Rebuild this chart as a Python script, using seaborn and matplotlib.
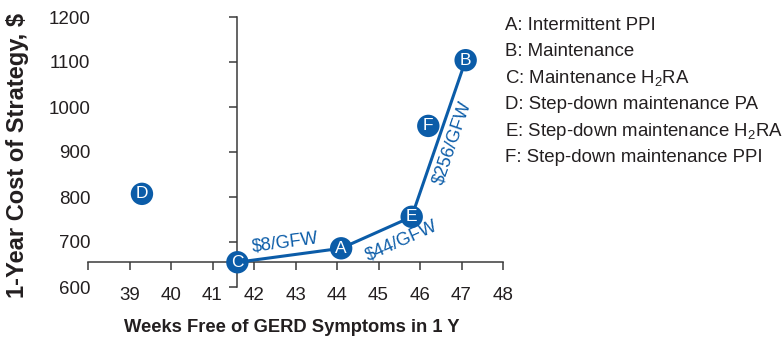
import numpy as np
import pandas as pd
import seaborn as sns
import matplotlib.pyplot as plt

# Strategy data: weeks free of symptoms vs. 1-year cost
letters = ["A", "B", "C", "D", "E", "F"]
strategies = [
    "Intermittent PPI",
    "Maintenance",
    "Maintenance H$_\\mathregular{2}$RA",
    "Step-down maintenance PA",
    "Step-down maintenance H$_\\mathregular{2}$RA",
    "Step-down maintenance PPI",
]
weeks = [44.1, 47.1, 41.6, 39.3, 45.8, 46.2]
cost = [686, 1104, 655, 807, 756, 958]

# Efficiency frontier order and incremental cost labels
frontier = ["C", "A", "E", "B"]
icer_labels = ["$8/GFW", "$44/GFW", "$256/GFW"]
icer_offsets = [(-3, 9), (18, -6), (10, -3)]  # text offsets in points

x_ticks = [38, 39, 40, 41, 42, 43, 44, 45, 46, 47, 48]
x_ticklabels = ["", "39", "40", "41", "42", "43", "44", "45", "46", "47", "48"]
y_ticks = [600, 700, 800, 900, 1000, 1100, 1200]

BLUE = "#0B5CA8"
INK = "#231F20"

sns.set_theme(style="white")
plt.rcParams["font.family"] = ["Liberation Sans", "DejaVu Sans"]
plt.rcParams["mathtext.fontset"] = "custom"
plt.rcParams["mathtext.rm"] = "Liberation Sans"
plt.rcParams["mathtext.it"] = "Liberation Sans:italic"
plt.rcParams["mathtext.bf"] = "Liberation Sans:bold"

df = pd.DataFrame({"letter": letters, "weeks": weeks, "cost": cost})
front = df.set_index("letter").loc[frontier].reset_index()

fig = plt.figure(figsize=(7.84, 3.40), dpi=100)
ax = fig.add_axes([88 / 784, 53 / 340, 415 / 784, 270 / 340])
ax.set_xlim(38, 48)
ax.set_ylim(600, 1200)

sns.lineplot(data=front, x="weeks", y="cost", sort=False, color=BLUE,
             linewidth=2.2, ax=ax, zorder=3)
sns.scatterplot(data=df, x="weeks", y="cost", color=BLUE, s=260,
                edgecolor="none", linewidth=0, ax=ax, zorder=4, clip_on=False)
for _, r in df.iterrows():
    ax.text(r["weeks"], r["cost"], r["letter"], color="white", fontsize=12.5,
            ha="center", va="center", zorder=5)

# Spines cross at the cheapest strategy
c_pt = df.set_index("letter").loc["C"]
for side in ["top", "right"]:
    ax.spines[side].set_visible(False)
ax.spines["left"].set_position(("data", c_pt["weeks"]))
ax.spines["bottom"].set_position(("data", c_pt["cost"]))
for side in ["left", "bottom"]:
    ax.spines[side].set_color("#3A3A3A")
    ax.spines[side].set_linewidth(1.1)

ax.set_xticks(x_ticks)
ax.set_xticklabels(x_ticklabels)
ax.set_yticks(y_ticks)
ax.tick_params(axis="y", direction="out", length=6, width=1.1, color="#3A3A3A",
               pad=100, labelsize=13.5, labelcolor=INK, left=True)
ax.tick_params(axis="x", direction="out", length=5.5, width=1.1, color="#3A3A3A",
               pad=12.5, labelsize=13.5, labelcolor=INK, bottom=True)
ax.set_xlabel("")
ax.set_ylabel("")

# Incremental cost labels along each frontier segment
fig.canvas.draw()
for i, lab in enumerate(icer_labels):
    p0 = front.iloc[i]
    p1 = front.iloc[i + 1]
    d0 = ax.transData.transform((p0["weeks"], p0["cost"]))
    d1 = ax.transData.transform((p1["weeks"], p1["cost"]))
    ang = np.degrees(np.arctan2(d1[1] - d0[1], d1[0] - d0[0]))
    mid = ((p0["weeks"] + p1["weeks"]) / 2, (p0["cost"] + p1["cost"]) / 2)
    ax.annotate(lab, xy=mid, xytext=icer_offsets[i], textcoords="offset points",
                rotation=ang, rotation_mode="anchor", ha="center", va="center",
                color=BLUE, fontsize=13)

fig.text(18 / 784, 1 - 155 / 340, "1-Year Cost of Strategy, $", rotation=90,
         ha="center", va="center", fontsize=17, fontweight="bold", color=INK)
fig.text(292 / 784, 1 - 327 / 340, "Weeks Free of GERD Symptoms in 1 Y",
         ha="center", va="center", fontsize=13.2, fontweight="bold", color=INK)

# Key to strategy letters
for i, (l, s) in enumerate(zip(letters, strategies)):
    fig.text(505 / 784, 1 - (25 + 26.5 * i) / 340, f"{l}: {s}",
             ha="left", va="center", fontsize=13.4, color=INK)

fig.savefig("out.png", dpi=100)
